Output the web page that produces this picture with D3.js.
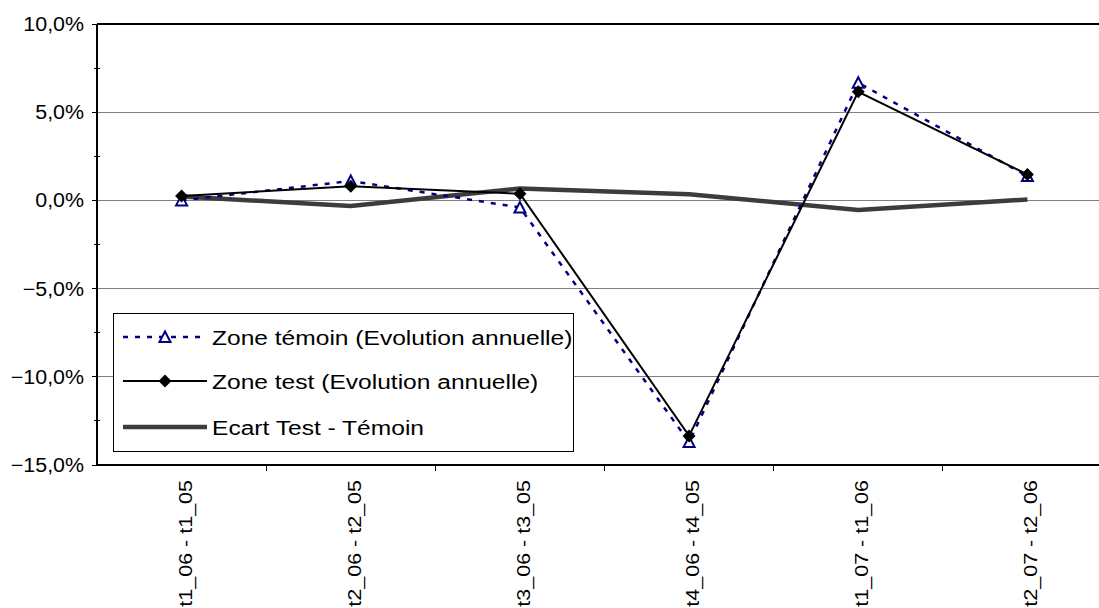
<!DOCTYPE html>
<html><head><meta charset="utf-8">
<script src="https://cdn.jsdelivr.net/npm/d3@7"></script>
<style>
html,body{margin:0;padding:0;background:#fff;overflow:hidden;}
svg{display:block;font-family:"Liberation Sans",Arial,sans-serif;}
</style></head>
<body>
<script>
const categories = ["t1_06 - t1_05","t2_06 - t2_05","t3_06 - t3_05","t4_06 - t4_05","t1_07 - t1_06","t2_07 - t2_06"];
const temoin = [0.0, 1.1, -0.4, -13.7, 6.67, 1.38];
const test = [0.25, 0.8, 0.38, -13.35, 6.16, 1.47];
const ecart = [0.22, -0.32, 0.68, 0.35, -0.55, 0.05];
const yTicks = [-15, -10, -5, 0, 5, 10];
const yMinorTicks = [-12.5, -7.5, -2.5, 2.5, 7.5];
const seriesNames = ["Zone témoin (Evolution annuelle)", "Zone test (Evolution annuelle)", "Ecart Test - Témoin"];

const W = 1099, H = 608;
const svg = d3.select("body").append("svg").attr("width", W).attr("height", H);
svg.append("rect").attr("width", W).attr("height", H).attr("fill", "#fff");

const x = d3.scaleBand().domain(categories).range([97, 1112]);
const y = d3.scaleLinear().domain([-15, 10]).range([465, 24]);
const cx = c => x(c) + x.bandwidth() / 2;
const fmt = v => d3.format(".1f")(v).replace(".", ",") + "%";

// gridlines
svg.append("g").selectAll("line").data(yTicks.filter(t => t > -15 && t < 10)).join("line")
  .attr("x1", 97).attr("x2", W).attr("y1", d => y(d)).attr("y2", d => y(d))
  .attr("stroke", "#808080").attr("stroke-width", 1).attr("shape-rendering", "crispEdges");
// top border
svg.append("line").attr("x1", 97).attr("x2", W).attr("y1", y(10)).attr("y2", y(10))
  .attr("stroke", "#000").attr("stroke-width", 1.3).attr("shape-rendering", "crispEdges");

// y axis
const yAxis = svg.append("g");
yAxis.append("line").attr("x1", 97).attr("x2", 97).attr("y1", y(10)).attr("y2", y(-15))
  .attr("stroke", "#000").attr("stroke-width", 1.3).attr("shape-rendering", "crispEdges");
yAxis.selectAll(".maj").data(yTicks).join("line").attr("class", "maj")
  .attr("x1", 92).attr("x2", 97).attr("y1", d => y(d)).attr("y2", d => y(d))
  .attr("stroke", "#000").attr("shape-rendering", "crispEdges");
yAxis.selectAll(".min").data(yMinorTicks).join("line").attr("class", "min")
  .attr("x1", 94).attr("x2", 100).attr("y1", d => y(d)).attr("y2", d => y(d))
  .attr("stroke", "#000").attr("shape-rendering", "crispEdges");
yAxis.selectAll("text").data(yTicks).join("text")
  .attr("transform", d => `translate(84,${y(d) + 7}) scale(1.07,1)`)
  .attr("text-anchor", "end").attr("font-size", 20).attr("fill", "#000")
  .text(fmt);

// x axis
const xAxis = svg.append("g");
xAxis.append("line").attr("x1", 97).attr("x2", W).attr("y1", y(-15)).attr("y2", y(-15))
  .attr("stroke", "#000").attr("stroke-width", 1.3).attr("shape-rendering", "crispEdges");
xAxis.selectAll(".tk").data(categories.slice(1)).join("line").attr("class", "tk")
  .attr("x1", d => x(d)).attr("x2", d => x(d)).attr("y1", y(-15)).attr("y2", y(-15) + 6)
  .attr("stroke", "#000").attr("shape-rendering", "crispEdges");
xAxis.selectAll("text").data(categories).join("text")
  .attr("transform", d => `translate(${cx(d) + 10},480) rotate(-90) scale(1,0.87)`)
  .attr("text-anchor", "end").attr("font-size", 21.5).attr("fill", "#000")
  .text(d => d);

// lines
const line = vals => d3.line().x((d, i) => cx(categories[i])).y(d => y(d))(vals);
svg.append("path").attr("d", line(ecart)).attr("fill", "none")
  .attr("stroke", "#3c3c3c").attr("stroke-width", 4.5).attr("stroke-linejoin", "round");
svg.append("path").attr("d", line(temoin)).attr("fill", "none")
  .attr("stroke", "#000080").attr("stroke-width", 2.5).attr("stroke-dasharray", "5,7");
svg.append("path").attr("d", line(test)).attr("fill", "none")
  .attr("stroke", "#000").attr("stroke-width", 2);

const triPath = "M0,-5.5L5.5,5L-5.5,5Z";
const diaPath = "M0,-6.5L6.5,0L0,6.5L-6.5,0Z";
svg.append("g").selectAll("path").data(temoin).join("path")
  .attr("d", triPath).attr("transform", (d, i) => `translate(${cx(categories[i])},${y(d)})`)
  .attr("fill", "#fff").attr("stroke", "#000080").attr("stroke-width", 2);
svg.append("g").selectAll("path").data(test).join("path")
  .attr("d", diaPath).attr("transform", (d, i) => `translate(${cx(categories[i])},${y(d)})`)
  .attr("fill", "#000");

// legend
const lg = svg.append("g");
lg.append("rect").attr("x", 113.5).attr("y", 313.5).attr("width", 460).attr("height", 138)
  .attr("fill", "#fff").attr("stroke", "#000").attr("stroke-width", 1);
const rowsY = [337, 381, 427];
lg.append("line").attr("x1", 123).attr("x2", 207).attr("y1", rowsY[0]).attr("y2", rowsY[0])
  .attr("stroke", "#000080").attr("stroke-width", 2.5).attr("stroke-dasharray", "5,7");
lg.append("path").attr("d", triPath).attr("transform", `translate(165,${rowsY[0]})`)
  .attr("fill", "#fff").attr("stroke", "#000080").attr("stroke-width", 2);
lg.append("line").attr("x1", 123).attr("x2", 207).attr("y1", rowsY[1]).attr("y2", rowsY[1])
  .attr("stroke", "#000").attr("stroke-width", 2);
lg.append("path").attr("d", diaPath).attr("transform", `translate(165,${rowsY[1]})`).attr("fill", "#000");
lg.append("line").attr("x1", 123).attr("x2", 207).attr("y1", rowsY[2]).attr("y2", rowsY[2])
  .attr("stroke", "#3c3c3c").attr("stroke-width", 4.5);
lg.selectAll("text").data(seriesNames).join("text")
  .attr("transform", (d, i) => `translate(212,${rowsY[i] + 7.5}) scale(1.17,1)`)
  .attr("font-size", 21).attr("fill", "#000").text(d => d);
</script>
</body></html>
